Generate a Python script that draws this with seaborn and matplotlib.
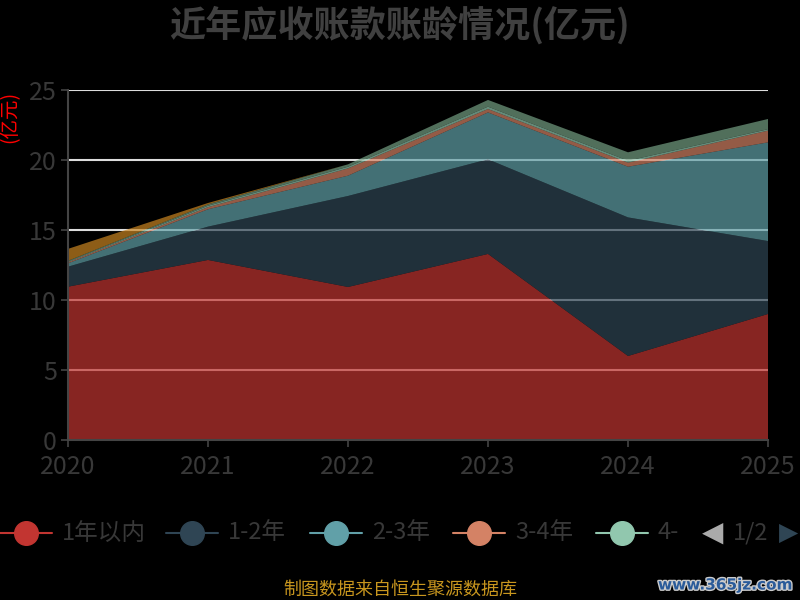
import matplotlib
matplotlib.use("Agg")
import matplotlib.pyplot as plt
import matplotlib.patheffects as pe
from matplotlib.lines import Line2D
import seaborn as sns
import numpy as np

#%% data (亿元)
years = [2020, 2021, 2022, 2023, 2024, 2025]
series_names = ["1年以内", "1-2年", "2-3年", "3-4年", "4-5年", "5年以上", "其他"]
within_1y = [10.95, 12.86, 10.93, 13.29, 6.0, 9.0]
y1_2 = [1.43, 2.38, 6.5, 6.76, 9.9, 5.21]
y2_3 = [0.24, 1.24, 1.45, 3.35, 3.62, 7.05]
y3_4 = [0.08, 0.15, 0.52, 0.24, 0.29, 0.84]
y4_5 = [0.05, 0.1, 0.12, 0.17, 0.14, 0.1]
over_5y = [0.05, 0.1, 0.17, 0.48, 0.6, 0.73]
other = [0.85, 0.1, 0.0, 0.0, 0.0, 0.0]
yticks = [0, 5, 10, 15, 20, 25]
legend_shown = ["1年以内", "1-2年", "2-3年", "3-4年", "4-"]

palette = ["#c23531", "#2f4554", "#61a0a8", "#d48265", "#91c7ae", "#749f83", "#ca8622"]
txt = "#383838"

#%%
sns.set_theme(style="dark")
plt.rcParams["font.family"] = ["Noto Sans CJK SC", "DejaVu Sans"]
plt.rcParams["figure.facecolor"] = "black"
plt.rcParams["axes.facecolor"] = "black"

fig = plt.figure(figsize=(8, 6), dpi=100)
ax = fig.add_axes([0.085, 0.2667, 0.875, 0.5833])

for v in yticks[1:]:
    ax.axhline(v, color="#dddddd", lw=1.5, zorder=0)

ax.stackplot(years, within_1y, y1_2, y2_3, y3_4, y4_5, over_5y, other,
             colors=palette, alpha=0.7, edgecolor="none", zorder=2)

ax.set_xlim(2020, 2025)
ax.set_ylim(0, 25)
ax.set_xticks(years)
ax.set_xticklabels([str(y) for y in years])
ax.set_yticks(yticks)
ax.tick_params(axis="both", colors="#444444", labelcolor=txt, labelsize=18,
               length=5, width=1.2, direction="out", bottom=True, left=True)
ax.tick_params(axis="x", pad=5)
ax.tick_params(axis="y", pad=3)
for s in ["top", "right"]:
    ax.spines[s].set_visible(False)
for s in ["left", "bottom"]:
    ax.spines[s].set_visible(True)
    ax.spines[s].set_color("#444444")
    ax.spines[s].set_linewidth(1.5)
ax.grid(False)

fig.text(0.5, 0.958, "近年应收账款账龄情况(亿元)", ha="center", va="center",
         fontsize=26, fontweight="bold", color="#404040")
fig.text(0.012, 0.805, "(亿元)", ha="center", va="center", rotation=90,
         fontsize=14, color="red")

# legend, page 1 of 2
leg_x = [26, 192, 336, 479, 622]
for i, (name, xc) in enumerate(zip(legend_shown, leg_x)):
    fx = xc / 800
    fig.add_artist(Line2D([fx - 26 / 800, fx + 26 / 800], [0.1117, 0.1117],
                          color=palette[i], lw=1.5, transform=fig.transFigure))
    fig.add_artist(Line2D([fx], [0.1117], marker="o", markersize=17,
                          color=palette[i], transform=fig.transFigure))
    fig.text(fx + 36 / 800, 0.1117, name, ha="left", va="center",
             fontsize=17, color=txt)
fig.text(713 / 800, 0.1117, "◀", ha="center", va="center", fontsize=20,
         color="#aaaaaa", family=["DejaVu Sans"])
fig.text(751 / 800, 0.1117, "1/2", ha="center", va="center", fontsize=17, color=txt)
fig.text(789 / 800, 0.1117, "▶", ha="center", va="center", fontsize=18,
         color="#2f4554", family=["DejaVu Sans"])

fig.text(0.5, 0.017, "制图数据来自恒生聚源数据库", ha="center", va="center",
         fontsize=13, color="#c8961e")
wm = fig.text(0.99, 0.025, "www.365jz.com", ha="right", va="center",
              fontsize=11, color="#2a5b9a", fontweight="bold", family=["DejaVu Sans"])
wm.set_path_effects([pe.withStroke(linewidth=2, foreground="#cccccc")])

fig.savefig("out.png", dpi=100, facecolor="black")
